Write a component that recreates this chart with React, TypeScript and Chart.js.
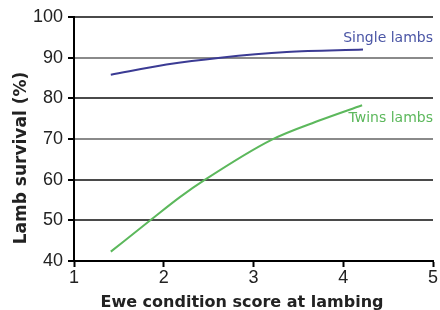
import React, { useEffect, useRef } from "react";
import { Chart, registerables } from "chart.js";

Chart.register(...registerables);

const singleX = [1.41, 2.03, 2.63, 3.37, 4.22];
const singleY = [85.8, 88.3, 90.0, 91.4, 92.0];
const twinsX = [1.41, 1.85, 2.18, 2.46, 3.2, 3.74, 4.21];
const twinsY = [42.3, 50.0, 55.7, 60.0, 69.8, 74.6, 78.3];
const seriesLabels = ["Single lambs", "Twins lambs"];
const xTitle = "Ewe condition score at lambing";
const yTitle = "Lamb survival (%)";

const BLUE = "#3b3b94";
const GREEN = "#5cb85c";

const labelPlugin = {
  id: "seriesLabels",
  afterDatasetsDraw(chart: any) {
    const { ctx, scales } = chart;
    const xs = scales.x;
    const ys = scales.y;
    ctx.save();
    ctx.font = "14px 'DejaVu Sans'";
    ctx.textAlign = "right";
    ctx.textBaseline = "middle";
    ctx.fillStyle = "#4a55a5";
    ctx.fillText(seriesLabels[0], xs.getPixelForValue(5), ys.getPixelForValue(94.8));
    ctx.fillStyle = GREEN;
    ctx.fillText(seriesLabels[1], xs.getPixelForValue(5), ys.getPixelForValue(75.1));

    // axis titles
    ctx.fillStyle = "#222";
    ctx.font = "bold 16px 'DejaVu Sans'";
    ctx.textAlign = "center";
    ctx.textBaseline = "alphabetic";
    ctx.fillText(xTitle, 242, 307);
    ctx.translate(26, 158);
    ctx.rotate(-Math.PI / 2);
    ctx.font = "bold 17px 'DejaVu Sans'";
    ctx.fillText(yTitle, 0, 0);
    ctx.restore();
  },
};

export default function App() {
  const ref = useRef<HTMLCanvasElement | null>(null);
  useEffect(() => {
    if (!ref.current) return;
    const chart = new Chart(ref.current, {
      type: "line",
      data: {
        datasets: [
          {
            label: seriesLabels[0],
            data: singleX.map((x, i) => ({ x, y: singleY[i] })),
            borderColor: BLUE,
            borderWidth: 2,
            pointRadius: 0,
            cubicInterpolationMode: "monotone",
          },
          {
            label: seriesLabels[1],
            data: twinsX.map((x, i) => ({ x, y: twinsY[i] })),
            borderColor: GREEN,
            borderWidth: 2,
            pointRadius: 0,
            cubicInterpolationMode: "monotone",
          },
        ],
      },
      options: {
        animation: false,
        responsive: false,
        maintainAspectRatio: false,
        layout: { padding: { top: 17, right: 7, left: 0, bottom: 0 } },
        plugins: { legend: { display: false }, tooltip: { enabled: false } },
        scales: {
          x: {
            type: "linear",
            min: 1,
            max: 5,
            ticks: {
              stepSize: 1,
              color: "#222",
              padding: 0,
              font: { family: "'Liberation Sans'", size: 18 },
            },
            grid: {
              drawOnChartArea: false,
              drawTicks: true,
              tickLength: 6,
              tickColor: "#000",
              tickWidth: 2,
            },
            border: { color: "#000", width: 2 },
            title: { display: false, text: xTitle },
            afterFit: (s: any) => {
              s.height = 49;
            },
          },
          y: {
            min: 40,
            max: 100,
            ticks: {
              stepSize: 10,
              color: "#222",
              padding: 5,
              font: { family: "'Liberation Sans'", size: 18 },
            },
            grid: {
              drawTicks: true,
              tickLength: 6,
              tickColor: "#000",
              tickWidth: 2,
              lineWidth: 2,
              color: (c: any) => {
                const v = c.tick ? c.tick.value : 0;
                return v === 90 || v === 70 ? "#8a8a8a" : "#4a4a4a";
              },
            },
            border: { color: "#000", width: 2 },
            title: { display: false, text: yTitle },
            afterFit: (s: any) => {
              s.width = 74;
            },
          },
        },
      },
      plugins: [labelPlugin],
    } as any);
    return () => chart.destroy();
  }, []);
  return (
    <div style={{ position: "fixed", left: 0, top: 0, width: 440, height: 310, background: "#fff" }}>
      <canvas ref={ref} width={440} height={310} style={{ width: 440, height: 310 }} />
    </div>
  );
}
